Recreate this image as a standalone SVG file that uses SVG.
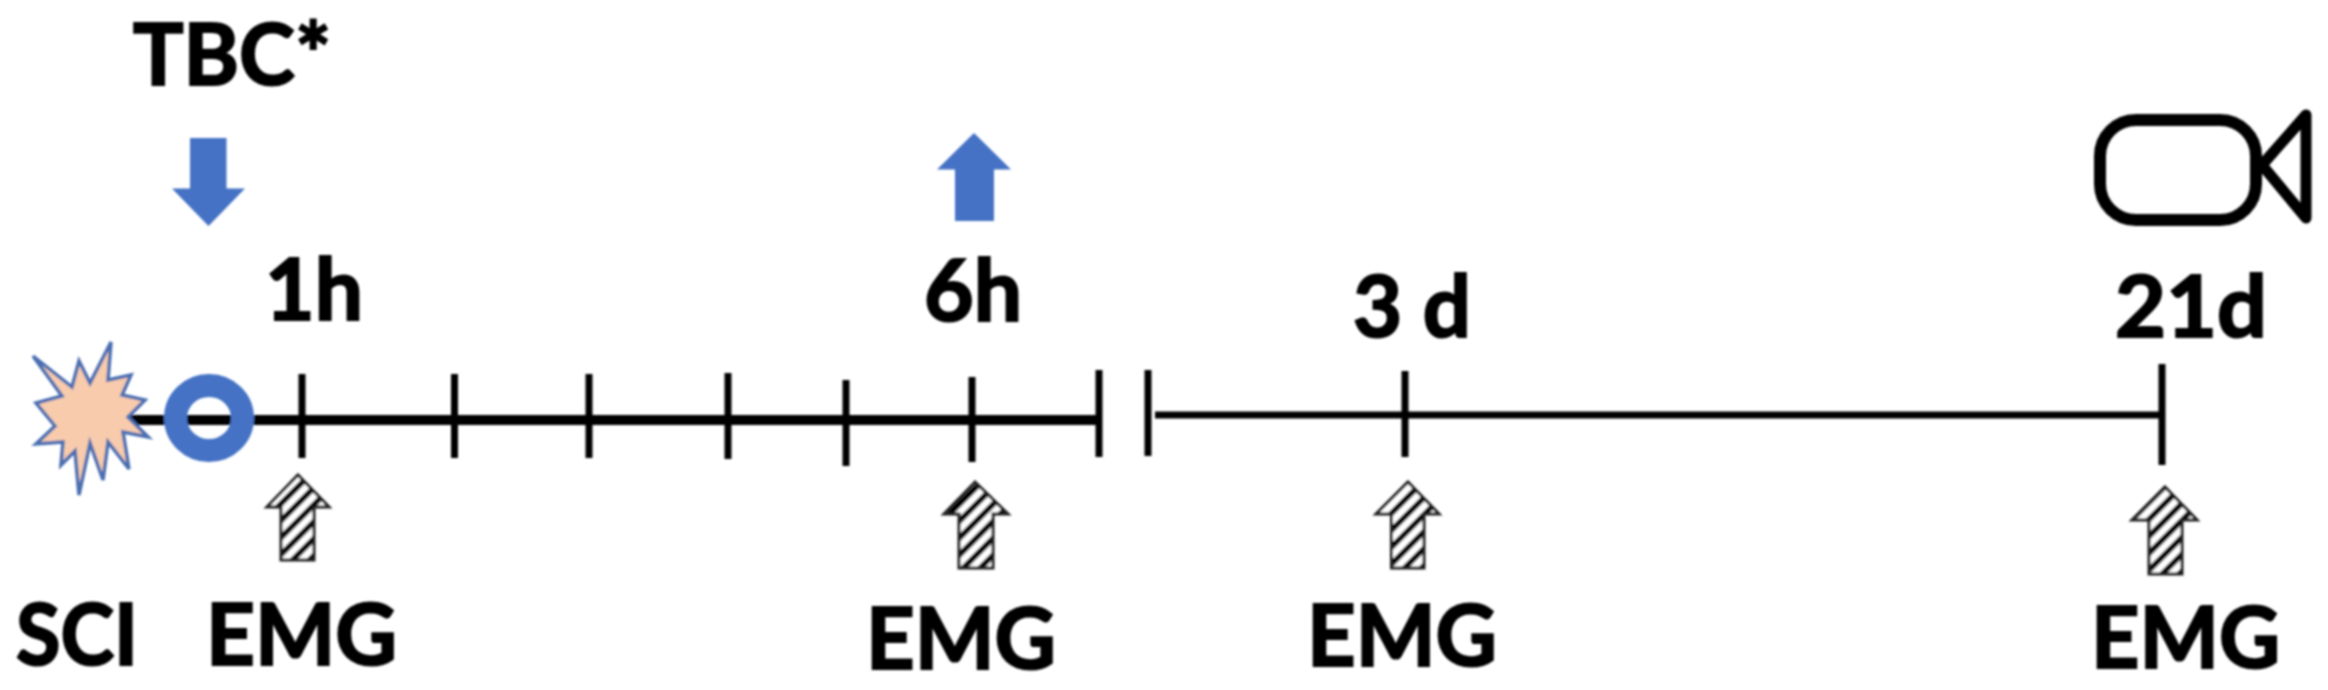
<svg xmlns="http://www.w3.org/2000/svg" width="2328" height="690" viewBox="0 0 2328 690">
  <style>
    .lbl { font-family: "Lato", "Open Sans", "Liberation Sans", sans-serif; font-weight: 700; font-size: 86px; fill: #000; stroke: #000; stroke-width: 2.200; }
    .axis { stroke: #000; fill: none; }
    .tick { stroke: #000; stroke-width: 7; }
    .blue { fill: #4472C4; }
    .emg { fill: url(#hatch); stroke: #222; stroke-width: 3; stroke-linejoin: miter; }
  </style>
  <defs>
    <pattern id="hatch" width="12" height="12" patternUnits="userSpaceOnUse" patternTransform="rotate(-45)">
      <rect width="12" height="12" fill="#fff"/>
      <rect width="12" height="5.500" fill="#000"/>
    </pattern>
    <filter id="soft" x="-2%" y="-2%" width="104%" height="104%">
      <feGaussianBlur stdDeviation="1"/>
    </filter>
  </defs>
  <rect width="2328" height="690" fill="#fff"/>
  <g filter="url(#soft)">
    <g id="connectors">
      <line class="axis" x1="128" y1="420" x2="1099" y2="420" stroke-width="10"/>
      <line class="axis" x1="1155" y1="415" x2="2162" y2="415" stroke-width="7"/>
      <line class="tick" x1="302" y1="374" x2="302" y2="458"/>
      <line class="tick" x1="454.500" y1="374" x2="454.500" y2="458"/>
      <line class="tick" x1="589" y1="374" x2="589" y2="458"/>
      <line class="tick" x1="728" y1="373" x2="728" y2="459"/>
      <line class="tick" x1="846" y1="380" x2="846" y2="466"/>
      <line class="tick" x1="972" y1="377" x2="972" y2="462"/>
      <line class="tick" x1="1099" y1="370" x2="1099" y2="457"/>
      <line class="tick" x1="1148" y1="370" x2="1148" y2="456"/>
      <line class="tick" x1="1405" y1="371" x2="1405" y2="457"/>
      <line class="tick" x1="2162" y1="364" x2="2162" y2="465"/>
    </g>
    <g id="sci-star">
      <polygon fill="#F8CBAD" stroke="#4A6EB0" stroke-width="3.500" points="33,356 72,387 79,361 90,383 111,342 108,380 131,375 122,395 145,400 128,417 148,437 123,432 129,469 108,442 103,480 90,443 79,495 75,451 61,465 63,442 36,444 55,426 36,403 62,396"/>
      <text class="lbl" x="16" y="665" textLength="122" lengthAdjust="spacingAndGlyphs">SCI</text>
    </g>
    <g id="tbc-ring">
      <ellipse cx="209" cy="418" rx="33.500" ry="32.500" fill="none" stroke="#4472C4" stroke-width="23"/>
    </g>
    <g id="tbc">
      <text class="lbl" x="133" y="85" textLength="198" lengthAdjust="spacingAndGlyphs">TBC*</text>
      <polygon class="blue" points="190,138 226.500,138 226.500,188.500 245,188.500 208.500,226 172,188.500 190,188.500"/>
    </g>
    <g id="t1h">
      <text class="lbl" x="265" y="320" textLength="98" lengthAdjust="spacingAndGlyphs">1h</text>
      <polygon class="emg" points="298,475 329,507 314,507 314,560 281,560 281,507 267,507"/>
      <text class="lbl" x="206" y="665" textLength="191" lengthAdjust="spacingAndGlyphs">EMG</text>
    </g>
    <g id="t6h">
      <polygon class="blue" points="974,133 1011,169.500 994,169.500 994,221 955,221 955,169.500 937,169.500"/>
      <text class="lbl" x="924" y="321" textLength="98" lengthAdjust="spacingAndGlyphs">6h</text>
      <polygon class="emg" points="975,482 1008,514 993,514 993,568 959,568 959,514 944,514"/>
      <text class="lbl" x="866" y="669" textLength="190" lengthAdjust="spacingAndGlyphs">EMG</text>
    </g>
    <g id="t3d">
      <text class="lbl" x="1353" y="337" textLength="118" lengthAdjust="spacingAndGlyphs">3 d</text>
      <polygon class="emg" points="1408,482 1439,514 1424,514 1424,568 1391.500,568 1391.500,514 1376,514"/>
      <text class="lbl" x="1307" y="666" textLength="190" lengthAdjust="spacingAndGlyphs">EMG</text>
    </g>
    <g id="t21d">
      <text class="lbl" x="2115" y="337" textLength="152" lengthAdjust="spacingAndGlyphs">21d</text>
      <polygon class="emg" points="2165,487 2197,520 2182,520 2182,574 2149,574 2149,520 2132,520"/>
      <text class="lbl" x="2091" y="668" textLength="189" lengthAdjust="spacingAndGlyphs">EMG</text>
    </g>
    <g id="camera" fill="none" stroke="#000" stroke-width="12" stroke-linejoin="round">
      <rect x="2100" y="120" width="156" height="100" rx="36" ry="36"/>
      <polygon points="2262,165 2306,115 2306,218" stroke-width="11"/>
    </g>
  </g>
</svg>
